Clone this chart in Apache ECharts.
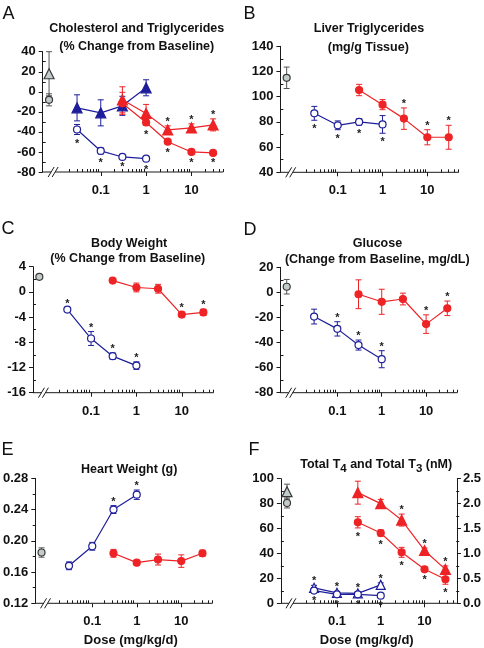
<!DOCTYPE html>
<html><head><meta charset="utf-8">
<script src="https://cdn.jsdelivr.net/npm/echarts@6/dist/echarts.min.js"></script>
<style>html,body{margin:0;padding:0;background:#fff}#c{width:484px;height:648px}</style>
</head><body><div id="c"></div>
<script>
// ---------------- DATA ----------------
const doseBlue = [0.03, 0.1, 0.3, 1];
const doseRed = [0.3, 1, 3, 10, 30];
const xMajorDoses = [0.1, 1, 10];
const xTickLabels = ['0.1', '1', '10'];
const xMinorDoses = [0.02,0.03,0.04,0.05,0.06,0.07,0.08,0.09,0.2,0.3,0.4,0.5,0.6,0.7,0.8,0.9,2,3,4,5,6,7,8,9,20,30,40,50];

// A: Cholesterol (circles) and Triglycerides (triangles), % change
const aCtrlCircle = [-8], aCtrlCircleErr = [6];
const aCtrlTri = [18], aCtrlTriErr = [22];
const aBlueCircle = [-37.6, -59, -65, -66.7], aBlueCircleErr = [5, 3, 1.5, 2], aBlueCircleStar = ['b','b','b','b'];
const aBlueTri = [-16, -21, -14, 4], aBlueTriErr = [13, 13, 9.5, 8], aBlueTriStar = ['','','',''];
const aRedCircle = [-11.5, -30.6, -49.8, -60, -61], aRedCircleErr = [11, 3, 2, 2, 1.5], aRedCircleStar = ['','b','b','b','b'];
const aRedTri = [-8, -21.6, -38, -36, -33], aRedTriErr = [13, 9, 4, 4, 6], aRedTriStar = ['','','a','a','a'];

// B: Liver triglycerides (mg/g tissue)
const bCtrl = [115], bCtrlErr = [8.5];
const bBlue = [86.8, 77.3, 80, 78], bBlueErr = [5.5, 3.5, 2.5, 7], bBlueStar = ['b','b','b','b'];
const bRed = [105.3, 93.7, 82.6, 67.8, 67.8], bRedErr = [4.5, 4, 8.5, 6, 9.5], bRedStar = ['','','a','a','a'];

// C: Body weight (% change)
const cCtrl = [2.4], cCtrlErr = [0.3];
const cBlue = [-2.8, -7.4, -10.2, -11.7], cBlueErr = [0.3, 1.1, 0.5, 0.6], cBlueStar = ['a','a','a','a'];
const cRed = [1.8, 0.7, 0.5, -3.6, -3.25], cRedErr = [0.2, 0.7, 0.7, 0.4, 0.5], cRedStar = ['','','','a','a'];

// D: Glucose (change, mg/dL)
const dCtrl = [4.5], dCtrlErr = [5.8];
const dBlue = [-19.3, -29.1, -42, -53.3], dBlueErr = [5.9, 5.7, 4, 6.8], dBlueStar = ['','a','a','a'];
const dRed = [-1.5, -7.5, -5.3, -25.3, -12.7], dRedErr = [11.5, 10, 4.7, 7.4, 5.8], dRedStar = ['','','','a','a'];

// E: Heart weight (g)
const eCtrl = [0.185], eCtrlErr = [0.006];
const eBlue = [0.168, 0.193, 0.240, 0.259], eBlueErr = [0.005, 0.005, 0.005, 0.006], eBlueStar = ['','','a','a'];
const eRed = [0.184, 0.172, 0.176, 0.174, 0.184], eRedErr = [0.005, 0.003, 0.007, 0.008, 0.004], eRedStar = ['','','','',''];

// F: Total T4 (circles, left axis) and Total T3 (triangles, right axis), nM
const fCtrlT4 = [80.5], fCtrlT4Err = [4];
const fCtrlT3 = [2.24], fCtrlT3Err = [0.15];
const fBlueT4 = [10.2, 7.2, 7.2, 6.1], fBlueT4Err = [1.5, 1, 1, 0.8], fBlueT4Star = ['b','b','b','b'];
const fBlueT3 = [0.31, 0.21, 0.20, 0.37], fBlueT3Err = [0.05, 0.03, 0.03, 0.04], fBlueT3Star = ['a','a','a','a'];
const fRedT4 = [65, 56.4, 40.9, 27.3, 19.3], fRedT4Err = [4.5, 2.5, 4, 1.5, 4], fRedT4Star = ['b','b','b','b','b'];
const fRedT3 = [2.22, 2.0, 1.67, 1.06, 0.68], fRedT3Err = [0.23, 0.085, 0.12, 0.05, 0.07], fRedT3Star = ['','','a','a','a'];

// ---------------- STYLE / LAYOUT ----------------
const FONT = 'Liberation Sans';
const BLUE = '#1e1e9a', RED = '#ee2326', CTRL_FILL = '#c3cccc', CTRL_LINE = '#3a3a3a', AXIS = '#1a1a1a';
const XMIN = -2.28, CTRL_LOG = -2.14, BREAK_LOG = -2.05;

const panels = [
  {grid:{left:42.7, top:51.7, width:180.5, height:120.3}, xmax:1.70, y:[-80,40,20], yMinor:[-70,-50,-30,-10,10,30], fmt:v=>String(v)},
  {grid:{left:280.4, top:46.3, width:178.3, height:126}, xmax:1.70, y:[40,140,20], yMinor:[50,70,90,110,130], fmt:v=>String(v)},
  {grid:{left:33, top:266.7, width:180.5, height:126}, xmax:1.70, y:[-16,4,4], yMinor:[-14,-10,-6,-2,2], fmt:v=>String(v)},
  {grid:{left:280.5, top:267.3, width:176.7, height:125.4}, xmax:1.70, y:[-80,20,20], yMinor:[-70,-50,-30,-10,10], fmt:v=>String(v)},
  {grid:{left:32.7, top:478.3, width:179.7, height:125}, xmax:1.70, y:[0.12,0.28,0.04], yMinor:[0.14,0.18,0.22,0.26], fmt:v=>v.toFixed(2)},
  {grid:{left:280.9, top:478.7, width:178.3, height:124.6}, xmax:1.74, y:[0,100,20], yMinor:[10,30,50,70,90], fmt:v=>String(v)},
];

const lg = d => Math.log10(d);
const majorLogs = xMajorDoses.map(lg);
const minorLogs = xMinorDoses.map(lg);
const labelFor = v => { const i = majorLogs.findIndex(m => Math.abs(m - v) < 1e-6); return i >= 0 ? xTickLabels[i] : ''; };

const grids = [], xAxes = [], yAxes = [], series = [];
const tickLabelStyle = {fontFamily: FONT, fontWeight: 'bold', fontSize: 13, color: '#111'};

panels.forEach((p, i) => {
  grids[i] = Object.assign({}, p.grid);
  grids[i + 6] = Object.assign({}, p.grid);
  xAxes[i] = {gridIndex:i, type:'value', position:'bottom', min:XMIN, max:p.xmax, axisLine:{show:false, onZero:false}, splitLine:{show:false},
    axisTick:{show:true, customValues:majorLogs, length:4, lineStyle:{color:AXIS}},
    axisLabel:Object.assign({customValues:majorLogs, formatter:labelFor, margin:12}, tickLabelStyle)};
  xAxes[i + 6] = {gridIndex:i + 6, type:'value', position:'bottom', min:XMIN, max:p.xmax, axisLine:{show:false, onZero:false}, splitLine:{show:false},
    axisTick:{show:true, inside:true, customValues:minorLogs, length:3, lineStyle:{color:AXIS}}, axisLabel:{show:false}};
  yAxes[i] = {gridIndex:i, type:'value', position:'left', min:p.y[0], max:p.y[1], interval:p.y[2], splitLine:{show:false},
    axisLine:{show:true, onZero:false, lineStyle:{color:AXIS}}, axisTick:{show:true, length:4, lineStyle:{color:AXIS}},
    axisLabel:Object.assign({formatter:p.fmt, margin:7}, tickLabelStyle)};
  yAxes[i + 6] = {gridIndex:i + 6, type:'value', position:'left', min:p.y[0], max:p.y[1], splitLine:{show:false}, axisLine:{show:false, onZero:false},
    axisTick:{show:true, inside:true, customValues:p.yMinor, length:3, lineStyle:{color:AXIS}}, axisLabel:{show:false}};
  // broken x axis
  series.push({type:'custom', xAxisIndex:i, yAxisIndex:i, silent:true, z:1, clip:false, data:[[XMIN, p.y[0]]],
    renderItem:(params, api) => {
      const a = api.coord([XMIN, p.y[0]]), b = api.coord([BREAK_LOG, p.y[0]]), c = api.coord([p.xmax, p.y[0]]);
      const ls = {stroke:AXIS, lineWidth:1};
      return {type:'group', children:[
        {type:'line', shape:{x1:a[0], y1:a[1], x2:b[0]-2, y2:a[1]}, style:ls},
        {type:'line', shape:{x1:b[0]+2, y1:a[1], x2:c[0], y2:a[1]}, style:ls},
        {type:'line', shape:{x1:b[0]-5, y1:a[1]+5, x2:b[0]+1, y2:a[1]-5}, style:ls},
        {type:'line', shape:{x1:b[0]-1, y1:a[1]+5, x2:b[0]+5, y2:a[1]-5}, style:ls},
      ]};
    }});
});
// F right axis (T3)
yAxes[12] = {gridIndex:5, type:'value', position:'right', min:0, max:2.5, interval:0.5, splitLine:{show:false},
  axisLine:{show:true, onZero:false, lineStyle:{color:AXIS}}, axisTick:{show:true, length:4, lineStyle:{color:AXIS}},
  axisLabel:Object.assign({formatter:v=>v.toFixed(1), margin:6}, tickLabelStyle)};
yAxes[13] = {gridIndex:11, type:'value', position:'right', min:0, max:2.5, splitLine:{show:false}, axisLine:{show:false, onZero:false},
  axisTick:{show:true, inside:true, customValues:[0.25,0.75,1.25,1.75,2.25], length:3, lineStyle:{color:AXIS}}, axisLabel:{show:false}};

function errRender(color, stars) {
  return (params, api) => {
    const x = api.value(0), y = api.value(1), e = api.value(2);
    const t = api.coord([x, y + e]), b = api.coord([x, y - e]);
    const ls = {stroke:color, lineWidth:1};
    const ch = [
      {type:'line', shape:{x1:t[0], y1:t[1], x2:b[0], y2:b[1]}, style:ls},
      {type:'line', shape:{x1:t[0]-3, y1:t[1], x2:t[0]+3, y2:t[1]}, style:ls},
      {type:'line', shape:{x1:b[0]-3, y1:b[1], x2:b[0]+3, y2:b[1]}, style:ls},
    ];
    const s = stars ? stars[params.dataIndex] : '';
    if (s) {
      const yy = s === 'a' ? t[1] - 4 : b[1] + 9;
      ch.push({type:'text', style:{text:'*', x:t[0], y:yy, align:'center', verticalAlign:'middle',
        textAlign:'center', textVerticalAlign:'middle', fill:'#222', fontFamily:FONT, fontWeight:'bold', fontSize:11}});
    }
    return {type:'group', children:ch};
  };
}

function addGroup(gi, yi, xs, vals, errs, stars, o) {
  series.push({type:'custom', xAxisIndex:gi, yAxisIndex:yi, silent:true, z:2, clip:false,
    data:xs.map((x, k) => [x, vals[k], errs[k]]), renderItem:errRender(o.err || o.color, stars)});
  series.push({type:'line', xAxisIndex:gi, yAxisIndex:yi, silent:true, z:3, animation:false,
    data:xs.map((x, k) => [x, vals[k]]), symbol:o.symbol, symbolSize:o.size, showSymbol:true, showAllSymbol:true,
    lineStyle:{color:o.color, width:1.2}, itemStyle:{color:o.fill, borderColor:o.color, borderWidth:1.2}});
}
const xb = doseBlue.map(lg), xr = doseRed.map(lg), xc = [CTRL_LOG];
const blueOpenC = {color:BLUE, fill:'#fff', symbol:'circle', size:7};
const blueFillT = {color:BLUE, fill:BLUE, symbol:'triangle', size:10};
const blueOpenT = {color:BLUE, fill:'#fff', symbol:'triangle', size:9};
const redC = {color:RED, fill:RED, symbol:'circle', size:7};
const redT = {color:RED, fill:RED, symbol:'triangle', size:10};
const ctrlC = {color:CTRL_LINE, fill:CTRL_FILL, symbol:'circle', size:7, err:'#555'};
const ctrlT = {color:CTRL_LINE, fill:CTRL_FILL, symbol:'triangle', size:10, err:'#555'};

// A
addGroup(0, 0, xc, aCtrlTri, aCtrlTriErr, null, ctrlT);
addGroup(0, 0, xc, aCtrlCircle, aCtrlCircleErr, null, ctrlC);
addGroup(0, 0, xb, aBlueTri, aBlueTriErr, aBlueTriStar, blueFillT);
addGroup(0, 0, xb, aBlueCircle, aBlueCircleErr, aBlueCircleStar, blueOpenC);
addGroup(0, 0, xr, aRedTri, aRedTriErr, aRedTriStar, redT);
addGroup(0, 0, xr, aRedCircle, aRedCircleErr, aRedCircleStar, redC);
// B
addGroup(1, 1, xc, bCtrl, bCtrlErr, null, ctrlC);
addGroup(1, 1, xb, bBlue, bBlueErr, bBlueStar, blueOpenC);
addGroup(1, 1, xr, bRed, bRedErr, bRedStar, redC);
// C
addGroup(2, 2, xc, cCtrl, cCtrlErr, null, ctrlC);
addGroup(2, 2, xb, cBlue, cBlueErr, cBlueStar, blueOpenC);
addGroup(2, 2, xr, cRed, cRedErr, cRedStar, redC);
// D
addGroup(3, 3, xc, dCtrl, dCtrlErr, null, ctrlC);
addGroup(3, 3, xb, dBlue, dBlueErr, dBlueStar, blueOpenC);
addGroup(3, 3, xr, dRed, dRedErr, dRedStar, redC);
// E
addGroup(4, 4, xc, eCtrl, eCtrlErr, null, ctrlC);
addGroup(4, 4, xb, eBlue, eBlueErr, eBlueStar, blueOpenC);
addGroup(4, 4, xr, eRed, eRedErr, eRedStar, redC);
// F
addGroup(5, 12, xc, fCtrlT3, fCtrlT3Err, null, ctrlT);
addGroup(5, 5, xc, fCtrlT4, fCtrlT4Err, null, ctrlC);
addGroup(5, 12, xb, fBlueT3, fBlueT3Err, fBlueT3Star, blueOpenT);
addGroup(5, 5, xb, fBlueT4, fBlueT4Err, fBlueT4Star, blueOpenC);
addGroup(5, 12, xr, fRedT3, fRedT3Err, fRedT3Star, redT);
addGroup(5, 5, xr, fRedT4, fRedT4Err, fRedT4Star, redC);

// ---------------- TEXT ----------------
function txt(text, x, y, size, weight, align) {
  return {type:'text', silent:true, style:{text, x, y, fill:'#111', fontFamily:FONT, fontSize:size, fontWeight:weight||'bold',
    align:align||'center', verticalAlign:'middle', textAlign:align||'center', textVerticalAlign:'middle'}};
}
const graphic = [
  txt('A', 2.5, 14.5, 18, 'normal', 'left'), txt('B', 243.5, 14, 18, 'normal', 'left'),
  txt('C', 1.5, 228.7, 18, 'normal', 'left'), txt('D', 243.5, 230, 18, 'normal', 'left'),
  txt('E', 1.5, 450, 18, 'normal', 'left'), txt('F', 248.5, 450, 18, 'normal', 'left'),
  txt('Cholesterol and Triglycerides', 136.7, 28.3, 12.5), txt('(% Change from Baseline)', 136.7, 46.7, 12.5),
  txt('Liver Triglycerides', 369, 28.3, 12.5), txt('(mg/g Tissue)', 368.3, 47.7, 12.5),
  txt('Body Weight', 129.2, 243.3, 12.5), txt('(% Change from Baseline)', 127.8, 258.3, 12.5),
  txt('Glucose', 377.5, 244, 12.5), txt('(Change from Baseline, mg/dL)', 377.3, 259.3, 12.5),
  txt('Heart Weight (g)', 129.2, 470, 12.5),
  txt('Dose (mg/kg/d)', 130.8, 640.7, 13), txt('Dose (mg/kg/d)', 366.7, 640.7, 13),
  {type:'text', silent:true, style:{text:'{a|Total T}{s|4}{a| and Total T}{s|3}{a| (nM)}', x:376.2, y:465,
    align:'center', verticalAlign:'middle', textAlign:'center', textVerticalAlign:'middle',
    rich:{a:{fontFamily:FONT, fontWeight:'bold', fontSize:12.5, fill:'#111', lineHeight:14, verticalAlign:'top'},
          s:{fontFamily:FONT, fontWeight:'bold', fontSize:11.5, fill:'#111', lineHeight:14, padding:[5,0,0,0], verticalAlign:'top'}}}}
];

const chart = echarts.init(document.getElementById('c'), null, {renderer:'canvas'});
chart.setOption({animation:false, grid:grids, xAxis:xAxes, yAxis:yAxes, series, graphic});
</script></body></html>
